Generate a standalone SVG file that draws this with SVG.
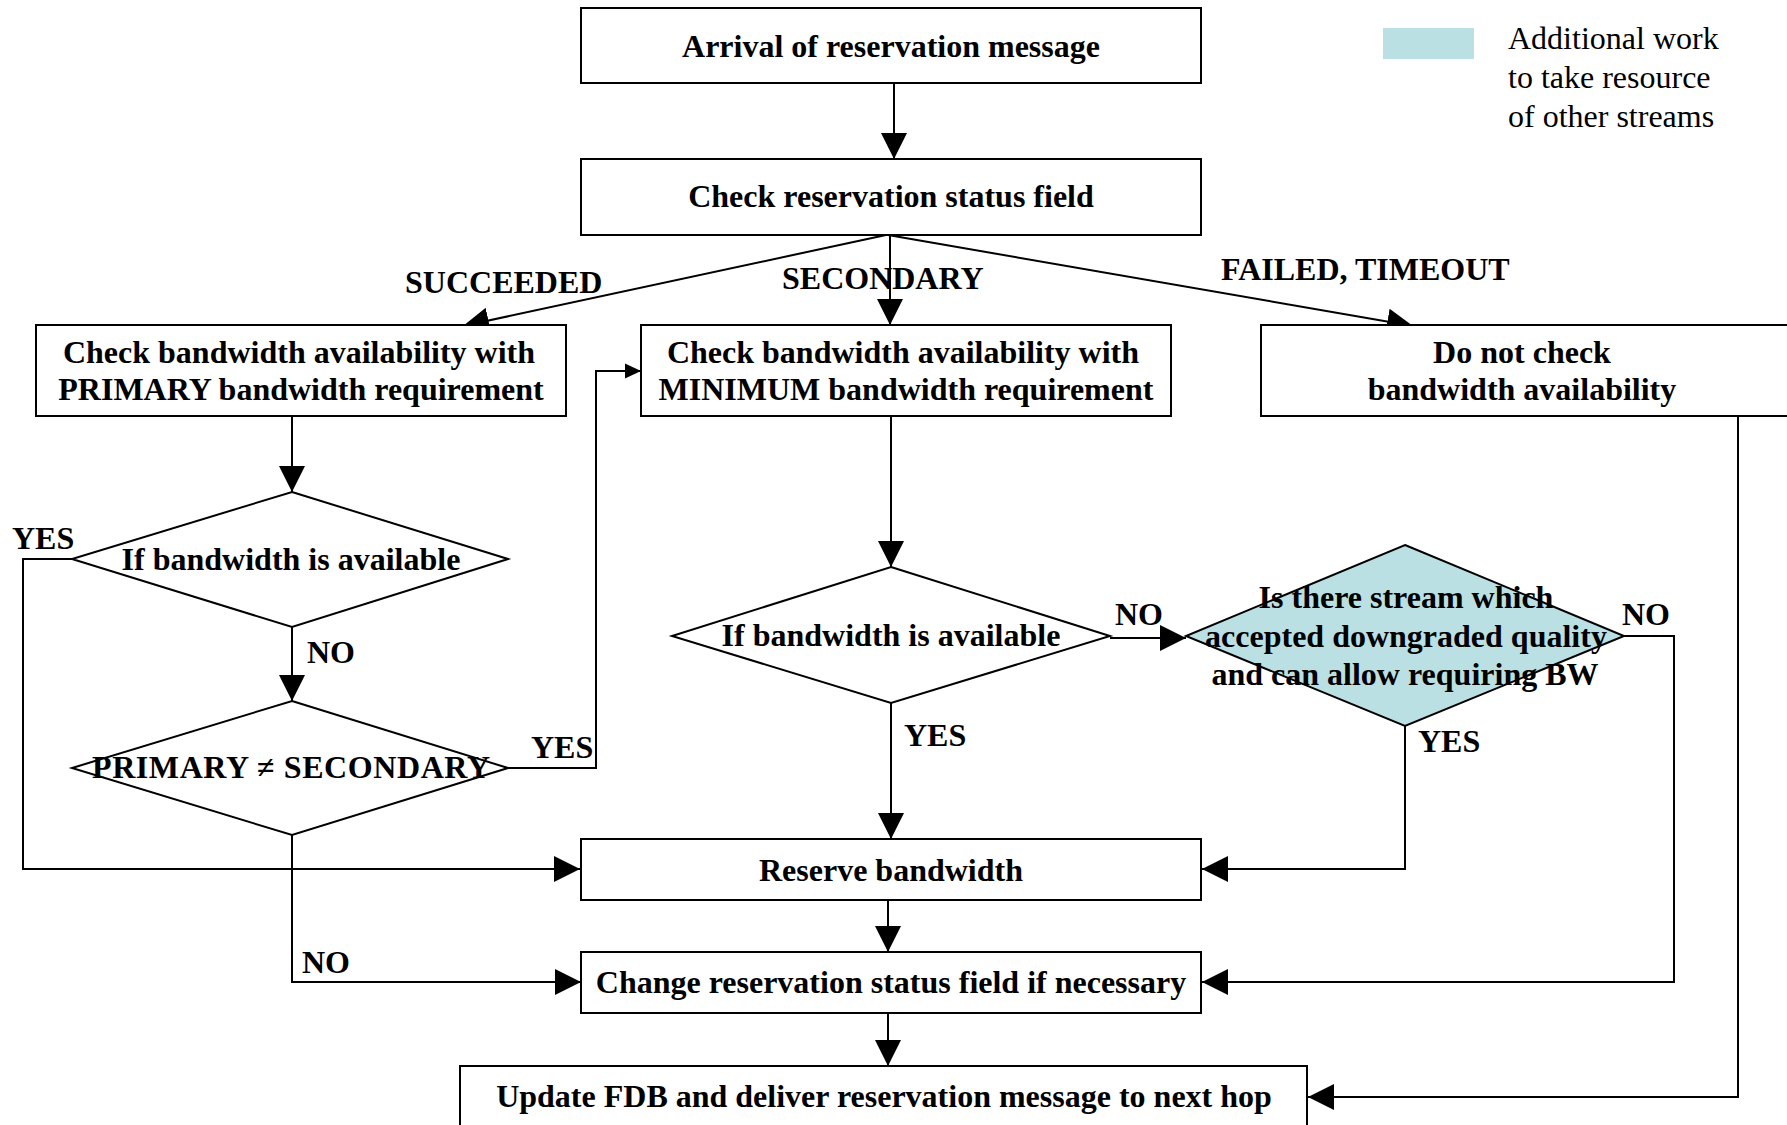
<svg xmlns="http://www.w3.org/2000/svg" width="1787" height="1125" viewBox="0 0 1787 1125">
<style>
.box{fill:#fff;stroke:#000;stroke-width:2}
.dia{fill:#fff;stroke:#000;stroke-width:2}
.cy{fill:#BAE0E3}
.t{font-family:"Liberation Serif","Times New Roman",serif;font-weight:bold;font-size:32px;fill:#000}
.c{text-anchor:middle}
.lg{font-family:"Liberation Serif","Times New Roman",serif;font-size:32px;fill:#000}
.ln{fill:none;stroke:#000;stroke-width:2}
</style>
<defs>
<marker id="ah" viewBox="0 0 26 26" refX="26" refY="13" markerWidth="26" markerHeight="26" markerUnits="userSpaceOnUse" orient="auto">
<path d="M0,0 L26,13 L0,26 z" fill="#000"/>
</marker>
<marker id="ahs" viewBox="0 0 16 16" refX="16" refY="8" markerWidth="16" markerHeight="16" markerUnits="userSpaceOnUse" orient="auto">
<path d="M0,0.5 L16,8 L0,15.5 z" fill="#000"/>
</marker>
</defs>
<rect width="1787" height="1125" fill="#fff"/>

<g id="legend">
<rect class="cy" x="1383" y="28" width="91" height="31"/>
<text class="lg" x="1508" y="49">Additional work</text>
<text class="lg" x="1508" y="88">to take resource</text>
<text class="lg" x="1508" y="127">of other streams</text>
</g>

<g id="connectors">
<line class="ln" x1="894" y1="83" x2="894" y2="159" marker-end="url(#ah)"/>
<line class="ln" x1="886" y1="235" x2="463" y2="326" marker-end="url(#ah)"/>
<line class="ln" x1="890" y1="235" x2="890" y2="325" marker-end="url(#ah)"/>
<line class="ln" x1="888" y1="235" x2="1413" y2="326" marker-end="url(#ah)"/>
<line class="ln" x1="292" y1="416" x2="292" y2="492" marker-end="url(#ah)"/>
<polyline class="ln" points="72,559 23,559 23,869 580,869" marker-end="url(#ah)"/>
<line class="ln" x1="292" y1="627" x2="292" y2="701" marker-end="url(#ah)"/>
<polyline class="ln" points="508,768 596,768 596,371 641,371" marker-end="url(#ahs)"/>
<polyline class="ln" points="292,835 292,982 581,982" marker-end="url(#ah)"/>
<line class="ln" x1="891" y1="416" x2="891" y2="567" marker-end="url(#ah)"/>
<line class="ln" x1="1110" y1="638" x2="1186" y2="638" marker-end="url(#ah)"/>
<line class="ln" x1="891" y1="703" x2="891" y2="839" marker-end="url(#ah)"/>
<polyline class="ln" points="1405,726 1405,869 1202,869" marker-end="url(#ah)"/>
<polyline class="ln" points="1624,636 1674,636 1674,982 1202,982" marker-end="url(#ah)"/>
<polyline class="ln" points="1738,416 1738,1097 1308,1097" marker-end="url(#ah)"/>
<line class="ln" x1="888" y1="900" x2="888" y2="952" marker-end="url(#ah)"/>
<line class="ln" x1="888" y1="1013" x2="888" y2="1066" marker-end="url(#ah)"/>
<text class="t" x="405" y="293">SUCCEEDED</text>
<text class="t" x="782" y="289">SECONDARY</text>
<text class="t" x="1221" y="280">FAILED, TIMEOUT</text>
<text class="t" x="12" y="549">YES</text>
<text class="t" x="307" y="663">NO</text>
<text class="t" x="531" y="758">YES</text>
<text class="t" x="302" y="973">NO</text>
<text class="t" x="1115" y="625">NO</text>
<text class="t" x="904" y="746">YES</text>
<text class="t" x="1622" y="625">NO</text>
<text class="t" x="1418" y="752">YES</text>
</g>

<g id="arrival">
<rect class="box" x="581" y="8" width="620" height="75"/>
<text class="t c" x="891" y="57">Arrival of reservation message</text>
</g>
<g id="check-status">
<rect class="box" x="581" y="159" width="620" height="76"/>
<text class="t c" x="891" y="207">Check reservation status field</text>
</g>
<g id="check-primary">
<rect class="box" x="36" y="325" width="530" height="91"/>
<text class="t c" x="299" y="363">Check bandwidth availability with</text>
<text class="t c" x="301" y="400">PRIMARY bandwidth requirement</text>
</g>
<g id="check-minimum">
<rect class="box" x="641" y="325" width="530" height="91"/>
<text class="t c" x="903" y="363">Check bandwidth availability with</text>
<text class="t c" x="906" y="400">MINIMUM bandwidth requirement</text>
</g>
<g id="no-check">
<rect class="box" x="1261" y="325" width="560" height="91"/>
<text class="t c" x="1522" y="363">Do not check</text>
<text class="t c" x="1522" y="400">bandwidth availability</text>
</g>
<g id="avail-1">
<polygon class="dia" points="292,492 508,559 292,627 72,559"/>
<text class="t c" x="291" y="570">If bandwidth is available</text>
</g>
<g id="prim-neq-sec">
<polygon class="dia" points="292,701 508,768 292,835 72,768"/>
<text class="t c" x="291" y="778" textLength="398" lengthAdjust="spacing">PRIMARY ≠ SECONDARY</text>
</g>
<g id="avail-2">
<polygon class="dia" points="891,567 1110,636 891,703 672,636"/>
<text class="t c" x="891" y="646">If bandwidth is available</text>
</g>
<g id="downgrade">
<polygon class="dia cy" points="1405,545 1624,636 1405,726 1186,636"/>
<text class="t c" x="1406" y="608">Is there stream which</text>
<text class="t c" x="1406" y="647">accepted downgraded quality</text>
<text class="t c" x="1405" y="685">and can allow requiring BW</text>
</g>
<g id="reserve">
<rect class="box" x="581" y="839" width="620" height="61"/>
<text class="t c" x="891" y="881">Reserve bandwidth</text>
</g>
<g id="change-status">
<rect class="box" x="581" y="952" width="620" height="61"/>
<text class="t c" x="891" y="993">Change reservation status field if necessary</text>
</g>
<g id="update-fdb">
<rect class="box" x="460" y="1066" width="847" height="70"/>
<text class="t c" x="884" y="1107">Update FDB and deliver reservation message to next hop</text>
</g>
</svg>
